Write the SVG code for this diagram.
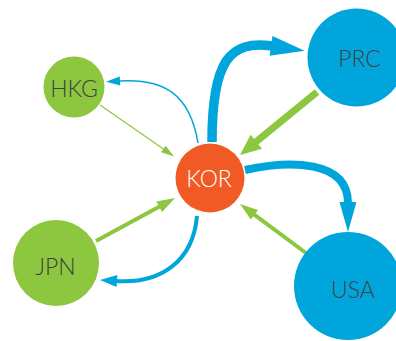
<svg xmlns="http://www.w3.org/2000/svg" width="396" height="341" viewBox="0 0 396 341">
<style>
.g{fill:#8dc63f}
.b{fill:#00a6db}
.o{fill:#f15a24}
.lb{fill:none;stroke:#00a6db;stroke-linecap:butt}
.lg{fill:none;stroke:#8dc63f;stroke-linecap:butt}
.t{font-family:"Lato","Open Sans",sans-serif;font-weight:300;font-size:23px;text-anchor:middle;fill:#414042}
.w{fill:#ffffff}
</style>
<defs>
<marker id="mBL" markerUnits="userSpaceOnUse" orient="auto" refX="0" refY="0" markerWidth="40" markerHeight="30" overflow="visible"><path class="b" d="M-1,-10 L33,0 L-1,10 Z"/></marker>
<marker id="mBL2" markerUnits="userSpaceOnUse" orient="auto" refX="0" refY="0" markerWidth="40" markerHeight="30" overflow="visible"><path class="b" d="M-1,-8.5 L29,0 L-1,8.5 Z"/></marker>
<marker id="mGL" markerUnits="userSpaceOnUse" orient="auto" refX="0" refY="0" markerWidth="40" markerHeight="30" overflow="visible"><path class="g" d="M-1,-9 L20,0 L-1,9 Z"/></marker>
<marker id="mBM" markerUnits="userSpaceOnUse" orient="auto" refX="0" refY="0" markerWidth="40" markerHeight="30" overflow="visible"><path class="b" d="M-1,-6 L16,0 L-1,6 Z"/></marker>
<marker id="mGM" markerUnits="userSpaceOnUse" orient="auto" refX="0" refY="0" markerWidth="40" markerHeight="30" overflow="visible"><path class="g" d="M-1,-6 L17,0 L-1,6 Z"/></marker>
<marker id="mBS" markerUnits="userSpaceOnUse" orient="auto" refX="0" refY="0" markerWidth="40" markerHeight="30" overflow="visible"><path class="b" d="M-1,-4.5 L13,0 L-1,4.5 Z"/></marker>
<marker id="mGS" markerUnits="userSpaceOnUse" orient="auto" refX="0" refY="0" markerWidth="40" markerHeight="30" overflow="visible"><path class="g" d="M-1,-4 L12,0 L-1,4 Z"/></marker>
</defs>
<g id="connectors">
<path id="e-kor-hkg" class="lb" stroke-width="1.5" d="M198,143 C190,95 165,78 119,81" marker-end="url(#mBS)"/>
<path id="e-hkg-kor" class="lg" stroke-width="1.2" d="M100,105 L164.2,149.6" marker-end="url(#mGS)"/>
<path id="e-kor-prc" class="lb" stroke-width="9.5" d="M212,142 C212,60 230,40 272,46" marker-end="url(#mBL)"/>
<path id="e-prc-kor" class="lg" stroke-width="7" d="M317,92 L255.5,142.3" marker-end="url(#mGL)"/>
<path id="e-kor-usa" class="lb" stroke-width="8" d="M245,170 C290,160 348,160 348,203" marker-end="url(#mBL2)"/>
<path id="e-usa-kor" class="lg" stroke-width="4" d="M306,253 L253.6,214.1" marker-end="url(#mGM)"/>
<path id="e-jpn-kor" class="lg" stroke-width="4" d="M96,241 L160.1,206.2" marker-end="url(#mGM)"/>
<path id="e-kor-jpn" class="lb" stroke-width="4" d="M197,216 C193,262 160,284 116,281" marker-end="url(#mBM)"/>
</g>
<g id="node-hkg"><circle class="g" cx="74" cy="87" r="30.5"/><text class="t" x="74" y="96.5">HKG</text></g>
<g id="node-kor"><circle class="o" cx="210" cy="178" r="34.5"/><text class="t w" x="209" y="186.5">KOR</text></g>
<g id="node-prc"><circle class="b" cx="356.5" cy="57.5" r="49"/><text class="t" x="359.5" y="66.5">PRC</text></g>
<g id="node-usa"><circle class="b" cx="348" cy="286" r="54"/><text class="t" x="353" y="298">USA</text></g>
<g id="node-jpn"><circle class="g" cx="56" cy="263" r="43"/><text class="t" x="55.5" y="275">JPN</text></g>
</svg>
